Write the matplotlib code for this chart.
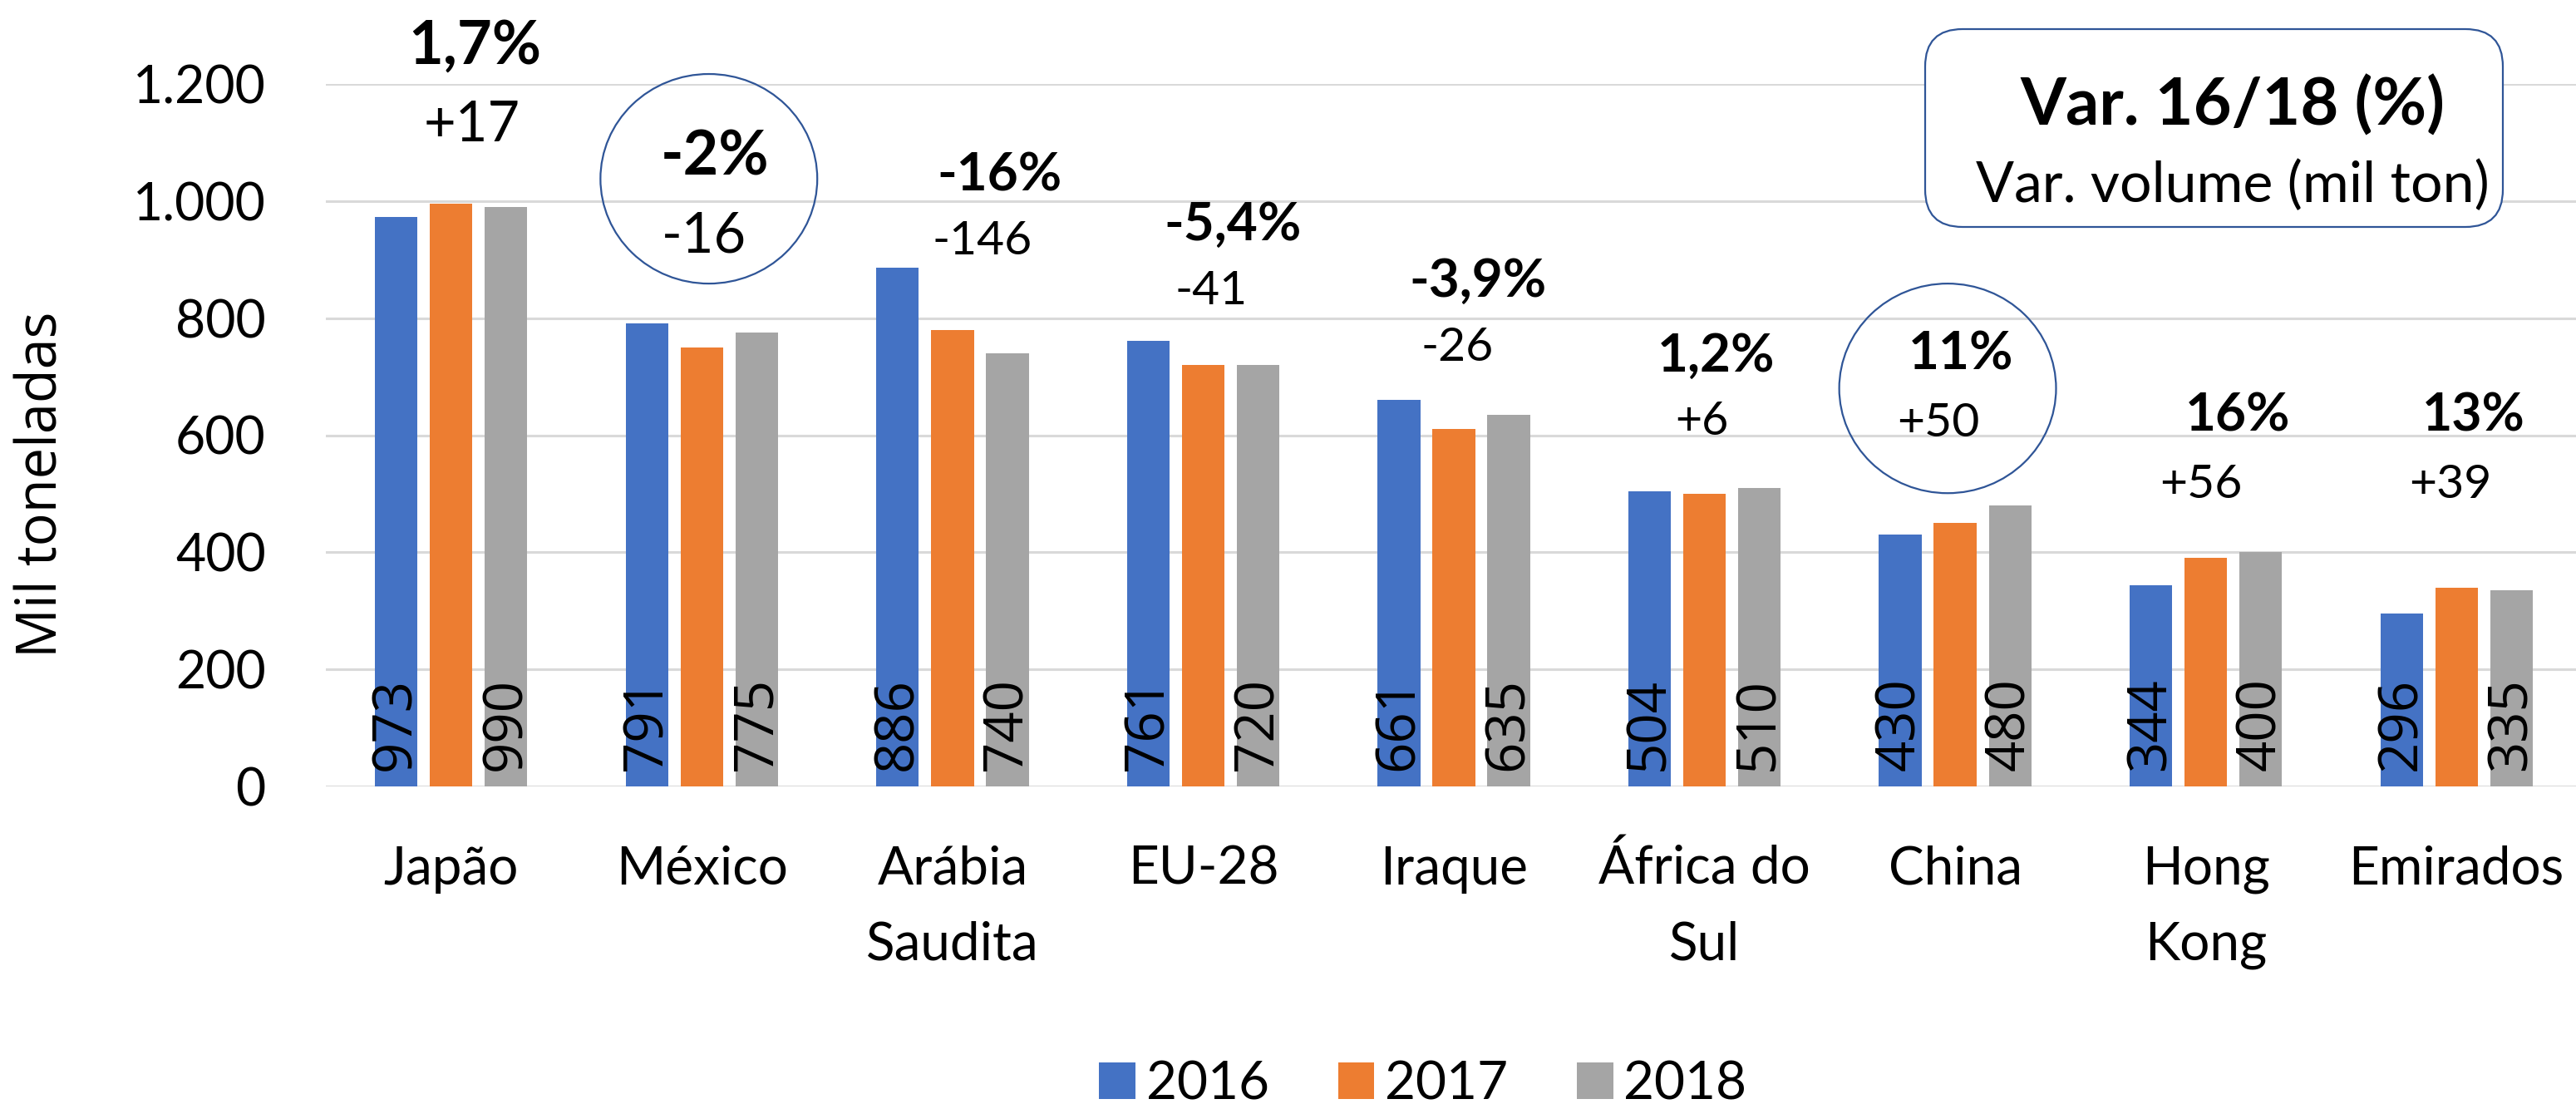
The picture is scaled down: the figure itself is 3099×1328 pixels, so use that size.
import matplotlib
matplotlib.use("Agg")
import matplotlib.pyplot as plt
from matplotlib.patches import Ellipse, FancyBboxPatch
from matplotlib.ticker import FuncFormatter
import numpy as np

plt.rcParams['font.family'] = ['Lato', 'DejaVu Sans']

# data
paises = ['Japão', 'México', 'Arábia\nSaudita', 'EU-28', 'Iraque',
          'África do\nSul', 'China', 'Hong\nKong', 'Emirados']
v2016 = [973, 791, 886, 761, 661, 504, 430, 344, 296]
v2017 = [996, 750, 780, 720, 610, 500, 450, 390, 340]
v2018 = [990, 775, 740, 720, 635, 510, 480, 400, 335]
anos = ['2016', '2017', '2018']
var_pct = ['1,7%', '-2%', '-16%', '-5,4%', '-3,9%', '1,2%', '11%', '16%', '13%']
var_vol = ['+17', '-16', '-146', '-41', '-26', '+6', '+50', '+56', '+39']

# layout of the variation labels (x offset from group, baseline y in data units)
pct_dx = [0.096, 0.051, 0.189, 0.118, 0.096, 0.048, 0.023, 0.128, 0.067]
pct_y = [1235, 1045, 1017, 933, 837, 709, 712, 607, 607]
pct_fs = [52, 53, 46, 46, 46, 46, 46, 46, 45]
vol_dx = [0.083, 0.008, 0.119, 0.032, 0.013, -0.012, -0.066, -0.02, -0.023]
vol_y = [1102, 913, 909, 824, 727, 601, 598, 493, 493]
vol_fs = [48, 48, 41, 41, 41, 40, 41, 41, 41]

cores = ['#4472C4', '#ED7D31', '#A5A5A5']

fig = plt.figure(figsize=(30.99, 13.28), dpi=100)
ax = fig.add_axes([392 / 3099, 382 / 1328, 2714 / 3099, 845 / 1328])

x = np.arange(len(paises))
w = 0.17
off = 0.219
barras = []
for i, (vals, c, ano) in enumerate(zip([v2016, v2017, v2018], cores, anos)):
    b = ax.bar(x + (i - 1) * off, vals, w, color=c, label=ano, zorder=2)
    barras.append(b)

# rotated value labels for 2016 and 2018
for i, vals in [(0, v2016), (2, v2018)]:
    for xi, v in zip(x, vals):
        ax.text(xi + (i - 1) * off, 27, str(v), rotation=90, ha='center', va='bottom',
                fontsize=47, family=['Open Sans', 'DejaVu Sans'], color='black', zorder=3)

ax.set_xlim(-0.5, len(paises) - 0.5)
ax.set_ylim(0, 1200)
ax.set_yticks(range(0, 1201, 200))
ax.yaxis.set_major_formatter(FuncFormatter(lambda v, p: f"{v:,.0f}".replace(',', '.')))
ax.tick_params(axis='y', length=0, pad=52, labelsize=45)
ax.set_xticks(x)
ax.set_xticklabels([''] * len(paises))
ax.tick_params(axis='x', length=0)
ax.yaxis.grid(True, color='#D9D9D9', lw=2.2, zorder=0)
ax.set_axisbelow(True)
for s in ax.spines.values():
    s.set_visible(False)

# category labels, one line at a time so the baselines line up
for xi, nome in zip(x, paises):
    for k, linha in enumerate(nome.split('\n')):
        ax.text(xi, -0.1396 - k * 91 / 845, linha, transform=ax.get_xaxis_transform(),
                ha='center', va='baseline', fontsize=46)

for i in range(len(paises)):
    ax.text(x[i] + pct_dx[i], pct_y[i], var_pct[i], ha='center', va='baseline',
            fontsize=pct_fs[i], fontweight='bold', clip_on=False)
    ax.text(x[i] + vol_dx[i], vol_y[i], var_vol[i], ha='center', va='baseline',
            fontsize=vol_fs[i], clip_on=False)

# circles around México and China
for cx, cy in [(1.028, 1038), (5.970, 680)]:
    ax.add_patch(Ellipse((cx, cy), 0.865, 358, fill=False, edgecolor='#2F5597',
                         lw=1.6, clip_on=False, zorder=4))

fig.text(51 / 3099, 1 - 583 / 1328, 'Mil toneladas', rotation=90, ha='center', va='center',
         fontsize=48, family=['Open Sans', 'DejaVu Sans'])

# box with the explanation
caixa = FancyBboxPatch((2316, 1328 - 273), 695, 238, boxstyle='round,pad=0,rounding_size=45',
                       transform=None, facecolor='white', edgecolor='#2F5597', lw=1.6,
                       zorder=5)
fig.patches.append(caixa)
fig.text(2686 / 3099, 1 - 151 / 1328, 'Var. 16/18 (%)', ha='center', va='baseline',
         fontsize=57, fontweight='bold', zorder=6)
fig.text(2686 / 3099, 1 - 243 / 1328, 'Var. volume (mil ton)', ha='center', va='baseline',
         fontsize=49, zorder=6)

fig.legend(handles=barras, labels=anos, loc='center', bbox_to_anchor=(1712 / 3099, 0.018),
           ncol=3, frameon=False, fontsize=46, handlelength=0.68, handleheight=0.68,
           handletextpad=0.2, columnspacing=1.3, borderpad=0)

fig.savefig('out.png', dpi=100)
